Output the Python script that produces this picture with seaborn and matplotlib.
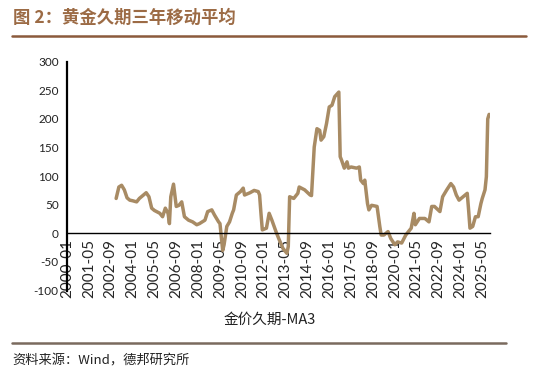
import matplotlib
matplotlib.use("Agg")
import matplotlib.pyplot as plt
import seaborn as sns
import pandas as pd
import numpy as np

sns.set_theme(style="white")
plt.rcParams['font.family'] = ['Lato', 'Noto Sans CJK SC', 'DejaVu Sans']

# ---- data (month offset from 2000-01, value) ----
month_idx = [36, 38, 40, 42, 44, 46, 48, 51, 53, 56, 58, 60, 62, 64, 68, 70, 72, 74, 75, 76,
             78, 80, 82, 84, 86, 89, 92, 95, 97, 101, 103, 106, 108, 111, 112, 113, 114, 115, 117, 119,
             121, 122, 124, 127, 129, 130, 134, 137, 140, 141, 142, 143, 146, 148, 150, 153, 155, 158, 161, 162,
             163, 166, 169, 170, 174, 178, 179, 181, 183, 185, 186, 188, 190, 192, 194, 196, 199, 200, 201, 203,
             205, 206, 208, 212, 214, 215, 217, 218, 220, 221, 223, 225, 227, 229, 230, 232, 235, 237, 240, 242,
             245, 248, 252, 254, 255, 258, 262, 265, 267, 269, 273, 275, 278, 281, 283, 285, 287, 290, 293, 294,
             295, 297, 299, 301, 303, 304, 306, 307, 308, 309]
values = [61, 81, 84, 76, 62, 58, 57, 55, 61, 67, 71, 64, 44, 40, 35, 29, 44, 35, 17, 64,
          86, 47, 49, 55, 29, 23, 20, 15, 17, 23, 38, 41, 32, 20, 17, -6, -30, -20, 12, 20,
          35, 41, 67, 73, 79, 67, 71, 75, 73, 67, 35, 6, 9, 35, 23, 3, -9, -26, -35, -23,
          64, 61, 70, 81, 76, 67, 66, 151, 183, 180, 163, 169, 192, 221, 224, 239, 247, 134, 128, 114,
          125, 114, 116, 114, 116, 93, 87, 93, 52, 41, 49, 48, 47, 12, -3, -3, 3, -9, -20, -15,
          -17, -3, 9, 35, 15, 26, 26, 20, 47, 47, 38, 64, 76, 87, 81, 67, 58, 64, 70, 41,
          9, 12, 29, 29, 52, 61, 76, 99, 200, 208]

start = pd.Period("2000-01", freq="M")
n_months = 310
month_labels = [str(start + i) for i in range(n_months)]
tick_pos = list(range(0, n_months, 16))
tick_labels = [month_labels[i] for i in tick_pos]
yticks = [-100, -50, 0, 50, 100, 150, 200, 250, 300]

df = pd.DataFrame({"x": month_idx, "v": values, "month": [month_labels[i] for i in month_idx]})

fig = plt.figure(figsize=(5.4, 3.79), dpi=100)
ax = fig.add_axes([0.124, 0.2335, 0.783, 0.6035])

sns.lineplot(data=df, x="x", y="v", ax=ax, color="#A88B64", linewidth=2.5, legend=False)

ax.set_xlim(0, 309.5)
ax.set_ylim(-100, 300)
ax.set_yticks(yticks)
ax.set_yticklabels([str(t) for t in yticks], fontsize=8.5, color="#222222")
ax.set_xticks(tick_pos)
ax.set_xticklabels(tick_labels, fontsize=8, color="#222222")
ax.set_xlabel("")
ax.set_ylabel("")

for s in ["top", "right"]:
    ax.spines[s].set_visible(False)
ax.spines["left"].set_color("black")
ax.spines["left"].set_linewidth(1.6)
ax.spines["bottom"].set_position(("data", 0))
ax.spines["bottom"].set_color("black")
ax.spines["bottom"].set_linewidth(1.0)
ax.tick_params(axis="x", which="major", direction="inout", length=6, width=1.0, color="black",
               pad=1, labelrotation=90)
ax.tick_params(axis="y", length=0, pad=6)
for lab in ax.get_xticklabels():
    lab.set_rotation(90)
    lab.set_va("top")
    lab.set_ha("center")
ax.grid(False)

# title and decorations
fig.text(13 / 540, 1 - 18 / 379, "图 2：黄金久期三年移动平均", fontsize=12.5, fontweight="bold",
         color="#9C6B45", ha="left", va="center", family=['Noto Sans CJK SC', 'DejaVu Sans'])
fig.add_artist(plt.Line2D([12 / 540, 526 / 540], [1 - 36 / 379, 1 - 36 / 379], color="#8B5A3C", linewidth=1.8))
fig.text(270 / 540, 1 - 320 / 379, "金价久期-MA3", fontsize=10.5, color="#222222", ha="center", va="center",
         family=['Noto Sans CJK SC', 'DejaVu Sans'])
fig.add_artist(plt.Line2D([12 / 540, 506 / 540], [1 - 343 / 379, 1 - 343 / 379], color="#7A6A5E", linewidth=1.8))
fig.text(12 / 540, 1 - 361 / 379, "资料来源：Wind，德邦研究所", fontsize=9.5, color="#222222", ha="left", va="center",
         family=['Noto Sans CJK SC', 'DejaVu Sans'])

fig.savefig("out.png", dpi=100)
